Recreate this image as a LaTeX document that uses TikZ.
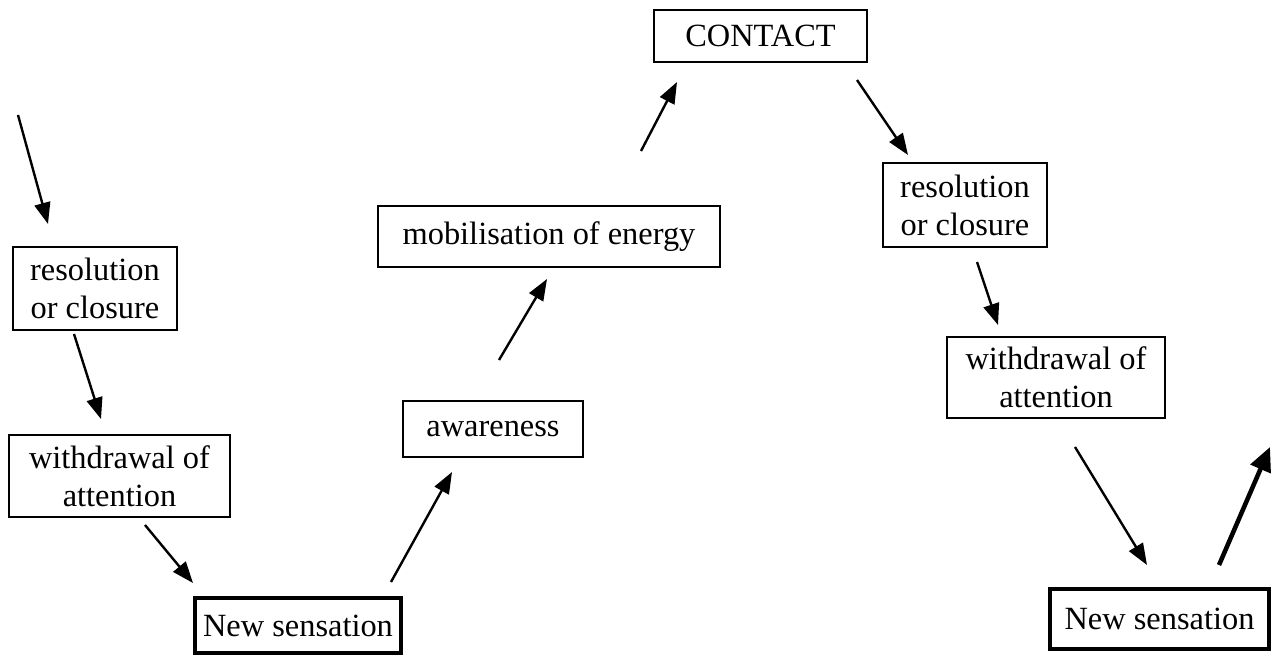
\documentclass[tikz,border=0pt]{standalone}
\usepackage{fontspec}
\setmainfont{Liberation Serif}
\usetikzlibrary{arrows.meta}
\begin{document}
\begin{tikzpicture}[x=0.75pt,y=-0.75pt,
  box/.style={draw,line width=1.8pt,inner sep=0pt,align=center,
    font=\fontsize{24.3}{28.5}\selectfont},
  thickbox/.style={box,line width=3.6pt},
  arr/.style={line width=1.8pt,-{Triangle[length=16pt,width=12pt]}},
  thickarr/.style={line width=3.4pt,-{Triangle[length=18pt,width=16pt]}}]
\path[use as bounding box] (0,0) rectangle (1280,655);
% nodes
\node[box,minimum width=123pt,minimum height=62.25pt] (resL) at (95,288.5) {resolution\\or closure};
\node[box,minimum width=165.75pt,minimum height=61.5pt] (withL) at (119.5,476) {withdrawal of\\attention};
\node[thickbox,minimum width=154.5pt,minimum height=41.25pt] (newL) at (298,625.5) {New sensation};
\node[box,minimum width=135pt,minimum height=42pt] (aware) at (493,429) {awareness};
\node[box,minimum width=256.5pt,minimum height=45.75pt] (mobil) at (549,236.5) {mobilisation of energy};
\node[box,minimum width=159.75pt,minimum height=39pt] (contact) at (760.5,36) {CONTACT};
\node[box,minimum width=123pt,minimum height=63pt] (resR) at (965,205) {resolution\\or closure};
\node[box,minimum width=163.5pt,minimum height=60.75pt] (withR) at (1056,377.5) {withdrawal of\\attention};
\node[thickbox,minimum width=164.25pt,minimum height=45pt] (newR) at (1159.5,619) {New sensation};
% connector end points
\coordinate (a0s) at (18,115);   \coordinate (a0e) at (48,224);
\coordinate (a1s) at (74,334);   \coordinate (a1e) at (101,419);
\coordinate (a2s) at (145,525);  \coordinate (a2e) at (193,583);
\coordinate (a3s) at (391,582);  \coordinate (a3e) at (452,472);
\coordinate (a4s) at (499,360);  \coordinate (a4e) at (547,279);
\coordinate (a5s) at (641,151);  \coordinate (a5e) at (677,82);
\coordinate (a6s) at (857,80);   \coordinate (a6e) at (908,155);
\coordinate (a7s) at (977,262);  \coordinate (a7e) at (998,325);
\coordinate (a8s) at (1075,447); \coordinate (a8e) at (1147,565);
\coordinate (a9s) at (1219,565); \coordinate (a9e) at (1270,447);
% connectors
\draw[arr] (a0s) -- (a0e);
\draw[arr] (a1s) -- (a1e);
\draw[arr] (a2s) -- (a2e);
\draw[arr] (a3s) -- (a3e);
\draw[arr] (a4s) -- (a4e);
\draw[arr] (a5s) -- (a5e);
\draw[arr] (a6s) -- (a6e);
\draw[arr] (a7s) -- (a7e);
\draw[arr] (a8s) -- (a8e);
\draw[thickarr] (a9s) -- (a9e);
\end{tikzpicture}
\end{document}
